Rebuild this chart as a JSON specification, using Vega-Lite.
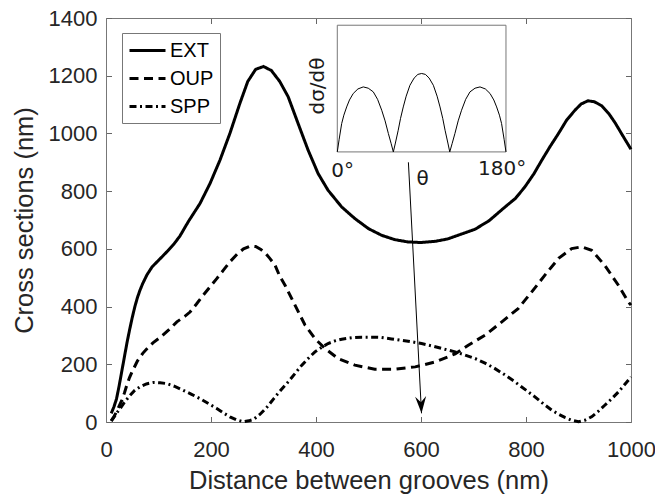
{
  "$schema": "https://vega.github.io/schema/vega-lite/v6.json",
  "width": 525,
  "height": 404,
  "autosize": {"type": "none"},
  "padding": {"left": 106, "top": 18, "right": 24, "bottom": 73},
  "background": "white",
  "config": {
    "font": "Liberation Sans",
    "view": {"stroke": null},
    "axis": {
      "grid": false,
      "labelFont": "Liberation Sans",
      "labelFontSize": 22,
      "labelColor": "#262626",
      "labelFlush": false,
      "format": "d",
      "titleFont": "Liberation Sans",
      "titleFontSize": 25.5,
      "titleFontWeight": "normal",
      "titleColor": "#262626",
      "domainColor": "#777777",
      "domainWidth": 1,
      "tickColor": "#666666",
      "tickWidth": 1,
      "ticks": true
    }
  },
  "datasets": {
    "curves": [
      {"x": 10, "y": 30, "s": "EXT"}, {"x": 15, "y": 52, "s": "EXT"}, {"x": 20, "y": 80, "s": "EXT"}, {"x": 25, "y": 125, "s": "EXT"}, {"x": 30, "y": 175, "s": "EXT"}, {"x": 35, "y": 225, "s": "EXT"}, {"x": 40, "y": 275, "s": "EXT"}, {"x": 45, "y": 320, "s": "EXT"}, {"x": 50, "y": 362, "s": "EXT"}, {"x": 55, "y": 400, "s": "EXT"}, {"x": 60, "y": 432, "s": "EXT"}, {"x": 65, "y": 458, "s": "EXT"}, {"x": 70, "y": 480, "s": "EXT"}, {"x": 78, "y": 510, "s": "EXT"}, {"x": 88, "y": 538, "s": "EXT"}, {"x": 100, "y": 560, "s": "EXT"}, {"x": 116, "y": 590, "s": "EXT"}, {"x": 130, "y": 618, "s": "EXT"}, {"x": 141, "y": 645, "s": "EXT"}, {"x": 157, "y": 695, "s": "EXT"}, {"x": 179, "y": 757, "s": "EXT"}, {"x": 198, "y": 826, "s": "EXT"}, {"x": 217, "y": 907, "s": "EXT"}, {"x": 236, "y": 1000, "s": "EXT"}, {"x": 255, "y": 1104, "s": "EXT"}, {"x": 270, "y": 1180, "s": "EXT"}, {"x": 285, "y": 1222, "s": "EXT"}, {"x": 300, "y": 1232, "s": "EXT"}, {"x": 315, "y": 1218, "s": "EXT"}, {"x": 331, "y": 1180, "s": "EXT"}, {"x": 347, "y": 1127, "s": "EXT"}, {"x": 366, "y": 1034, "s": "EXT"}, {"x": 385, "y": 942, "s": "EXT"}, {"x": 404, "y": 861, "s": "EXT"}, {"x": 423, "y": 803, "s": "EXT"}, {"x": 449, "y": 745, "s": "EXT"}, {"x": 474, "y": 705, "s": "EXT"}, {"x": 500, "y": 670, "s": "EXT"}, {"x": 525, "y": 647, "s": "EXT"}, {"x": 550, "y": 632, "s": "EXT"}, {"x": 575, "y": 624, "s": "EXT"}, {"x": 600, "y": 622, "s": "EXT"}, {"x": 627, "y": 626, "s": "EXT"}, {"x": 650, "y": 634, "s": "EXT"}, {"x": 675, "y": 650, "s": "EXT"}, {"x": 703, "y": 668, "s": "EXT"}, {"x": 730, "y": 698, "s": "EXT"}, {"x": 760, "y": 745, "s": "EXT"}, {"x": 780, "y": 775, "s": "EXT"}, {"x": 798, "y": 815, "s": "EXT"}, {"x": 815, "y": 860, "s": "EXT"}, {"x": 830, "y": 907, "s": "EXT"}, {"x": 846, "y": 955, "s": "EXT"}, {"x": 862, "y": 1000, "s": "EXT"}, {"x": 877, "y": 1045, "s": "EXT"}, {"x": 893, "y": 1080, "s": "EXT"}, {"x": 905, "y": 1102, "s": "EXT"}, {"x": 918, "y": 1113, "s": "EXT"}, {"x": 930, "y": 1110, "s": "EXT"}, {"x": 944, "y": 1096, "s": "EXT"}, {"x": 958, "y": 1068, "s": "EXT"}, {"x": 970, "y": 1036, "s": "EXT"}, {"x": 985, "y": 990, "s": "EXT"}, {"x": 1000, "y": 945, "s": "EXT"},

      {"x": 10, "y": 5, "s": "OUP"}, {"x": 15, "y": 18, "s": "OUP"}, {"x": 20, "y": 35, "s": "OUP"}, {"x": 25, "y": 55, "s": "OUP"}, {"x": 30, "y": 75, "s": "OUP"}, {"x": 35, "y": 100, "s": "OUP"}, {"x": 40, "y": 130, "s": "OUP"}, {"x": 45, "y": 155, "s": "OUP"}, {"x": 50, "y": 175, "s": "OUP"}, {"x": 60, "y": 212, "s": "OUP"}, {"x": 70, "y": 238, "s": "OUP"}, {"x": 80, "y": 258, "s": "OUP"}, {"x": 90, "y": 275, "s": "OUP"}, {"x": 103, "y": 293, "s": "OUP"}, {"x": 120, "y": 320, "s": "OUP"}, {"x": 135, "y": 347, "s": "OUP"}, {"x": 150, "y": 366, "s": "OUP"}, {"x": 160, "y": 381, "s": "OUP"}, {"x": 172, "y": 408, "s": "OUP"}, {"x": 185, "y": 439, "s": "OUP"}, {"x": 198, "y": 468, "s": "OUP"}, {"x": 211, "y": 497, "s": "OUP"}, {"x": 224, "y": 527, "s": "OUP"}, {"x": 236, "y": 555, "s": "OUP"}, {"x": 250, "y": 582, "s": "OUP"}, {"x": 262, "y": 600, "s": "OUP"}, {"x": 275, "y": 610, "s": "OUP"}, {"x": 285, "y": 608, "s": "OUP"}, {"x": 295, "y": 598, "s": "OUP"}, {"x": 305, "y": 582, "s": "OUP"}, {"x": 312, "y": 567, "s": "OUP"}, {"x": 322, "y": 543, "s": "OUP"}, {"x": 331, "y": 505, "s": "OUP"}, {"x": 341, "y": 474, "s": "OUP"}, {"x": 360, "y": 405, "s": "OUP"}, {"x": 379, "y": 336, "s": "OUP"}, {"x": 398, "y": 289, "s": "OUP"}, {"x": 417, "y": 255, "s": "OUP"}, {"x": 442, "y": 220, "s": "OUP"}, {"x": 474, "y": 197, "s": "OUP"}, {"x": 512, "y": 183, "s": "OUP"}, {"x": 550, "y": 183, "s": "OUP"}, {"x": 589, "y": 191, "s": "OUP"}, {"x": 627, "y": 208, "s": "OUP"}, {"x": 665, "y": 236, "s": "OUP"}, {"x": 690, "y": 266, "s": "OUP"}, {"x": 722, "y": 301, "s": "OUP"}, {"x": 754, "y": 347, "s": "OUP"}, {"x": 785, "y": 393, "s": "OUP"}, {"x": 811, "y": 451, "s": "OUP"}, {"x": 836, "y": 509, "s": "OUP"}, {"x": 862, "y": 567, "s": "OUP"}, {"x": 887, "y": 601, "s": "OUP"}, {"x": 906, "y": 607, "s": "OUP"}, {"x": 925, "y": 595, "s": "OUP"}, {"x": 950, "y": 543, "s": "OUP"}, {"x": 976, "y": 474, "s": "OUP"}, {"x": 995, "y": 416, "s": "OUP"}, {"x": 1000, "y": 405, "s": "OUP"},

      {"x": 10, "y": 3, "s": "SPP"}, {"x": 20, "y": 30, "s": "SPP"}, {"x": 27, "y": 47, "s": "SPP"}, {"x": 35, "y": 68, "s": "SPP"}, {"x": 46, "y": 93, "s": "SPP"}, {"x": 55, "y": 110, "s": "SPP"}, {"x": 65, "y": 122, "s": "SPP"}, {"x": 77, "y": 132, "s": "SPP"}, {"x": 90, "y": 137, "s": "SPP"}, {"x": 103, "y": 136, "s": "SPP"}, {"x": 116, "y": 133, "s": "SPP"}, {"x": 130, "y": 124, "s": "SPP"}, {"x": 147, "y": 110, "s": "SPP"}, {"x": 163, "y": 96, "s": "SPP"}, {"x": 179, "y": 81, "s": "SPP"}, {"x": 195, "y": 64, "s": "SPP"}, {"x": 211, "y": 47, "s": "SPP"}, {"x": 225, "y": 30, "s": "SPP"}, {"x": 236, "y": 18, "s": "SPP"}, {"x": 248, "y": 8, "s": "SPP"}, {"x": 262, "y": 1, "s": "SPP"}, {"x": 272, "y": 4, "s": "SPP"}, {"x": 281, "y": 9, "s": "SPP"}, {"x": 293, "y": 26, "s": "SPP"}, {"x": 306, "y": 50, "s": "SPP"}, {"x": 320, "y": 82, "s": "SPP"}, {"x": 331, "y": 106, "s": "SPP"}, {"x": 347, "y": 139, "s": "SPP"}, {"x": 360, "y": 168, "s": "SPP"}, {"x": 373, "y": 197, "s": "SPP"}, {"x": 386, "y": 222, "s": "SPP"}, {"x": 398, "y": 243, "s": "SPP"}, {"x": 411, "y": 259, "s": "SPP"}, {"x": 423, "y": 272, "s": "SPP"}, {"x": 436, "y": 281, "s": "SPP"}, {"x": 449, "y": 287, "s": "SPP"}, {"x": 468, "y": 292, "s": "SPP"}, {"x": 487, "y": 294, "s": "SPP"}, {"x": 506, "y": 294, "s": "SPP"}, {"x": 525, "y": 293, "s": "SPP"}, {"x": 544, "y": 288, "s": "SPP"}, {"x": 563, "y": 283, "s": "SPP"}, {"x": 582, "y": 278, "s": "SPP"}, {"x": 601, "y": 272, "s": "SPP"}, {"x": 620, "y": 264, "s": "SPP"}, {"x": 639, "y": 255, "s": "SPP"}, {"x": 652, "y": 249, "s": "SPP"}, {"x": 665, "y": 243, "s": "SPP"}, {"x": 684, "y": 232, "s": "SPP"}, {"x": 703, "y": 220, "s": "SPP"}, {"x": 722, "y": 204, "s": "SPP"}, {"x": 741, "y": 185, "s": "SPP"}, {"x": 760, "y": 163, "s": "SPP"}, {"x": 779, "y": 139, "s": "SPP"}, {"x": 798, "y": 113, "s": "SPP"}, {"x": 817, "y": 87, "s": "SPP"}, {"x": 833, "y": 63, "s": "SPP"}, {"x": 849, "y": 41, "s": "SPP"}, {"x": 862, "y": 27, "s": "SPP"}, {"x": 874, "y": 16, "s": "SPP"}, {"x": 887, "y": 6, "s": "SPP"}, {"x": 900, "y": 1, "s": "SPP"}, {"x": 912, "y": 6, "s": "SPP"}, {"x": 925, "y": 18, "s": "SPP"}, {"x": 937, "y": 36, "s": "SPP"}, {"x": 950, "y": 58, "s": "SPP"}, {"x": 963, "y": 80, "s": "SPP"}, {"x": 976, "y": 104, "s": "SPP"}, {"x": 988, "y": 130, "s": "SPP"}, {"x": 1000, "y": 156, "s": "SPP"}
    ],
    "inset": [
      {"t": 0, "v": 0}, {"t": 2, "v": 0.1}, {"t": 4.7, "v": 0.224}, {"t": 7, "v": 0.29}, {"t": 10, "v": 0.355}, {"t": 13, "v": 0.41}, {"t": 17, "v": 0.461}, {"t": 22, "v": 0.497}, {"t": 27.7, "v": 0.513}, {"t": 33, "v": 0.503}, {"t": 38.4, "v": 0.474}, {"t": 43, "v": 0.415}, {"t": 47.4, "v": 0.329}, {"t": 51, "v": 0.245}, {"t": 54.5, "v": 0.145}, {"t": 57.5, "v": 0.065}, {"t": 59.8, "v": 0},
      {"t": 62, "v": 0.07}, {"t": 65, "v": 0.171}, {"t": 67.5, "v": 0.265}, {"t": 70.4, "v": 0.355}, {"t": 73.5, "v": 0.44}, {"t": 77.5, "v": 0.526}, {"t": 82, "v": 0.583}, {"t": 86, "v": 0.612}, {"t": 90, "v": 0.619}, {"t": 94, "v": 0.612}, {"t": 98, "v": 0.583}, {"t": 102.5, "v": 0.526}, {"t": 106.5, "v": 0.44}, {"t": 109.6, "v": 0.355}, {"t": 112.5, "v": 0.265}, {"t": 115, "v": 0.171}, {"t": 118, "v": 0.07}, {"t": 120, "v": 0},
      {"t": 122.5, "v": 0.065}, {"t": 125.5, "v": 0.145}, {"t": 129, "v": 0.245}, {"t": 132.6, "v": 0.329}, {"t": 137, "v": 0.415}, {"t": 141.6, "v": 0.474}, {"t": 147, "v": 0.503}, {"t": 152.3, "v": 0.513}, {"t": 158, "v": 0.497}, {"t": 163, "v": 0.461}, {"t": 167, "v": 0.41}, {"t": 170, "v": 0.355}, {"t": 173, "v": 0.29}, {"t": 175.3, "v": 0.224}, {"t": 178, "v": 0.1}, {"t": 180, "v": 0}
    ]
  },
  "layer": [
    {
      "layer": [
        {
          "data": {"name": "curves"},
          "mark": {"type": "line", "color": "black", "strokeWidth": 3, "strokeCap": "butt"},
          "encoding": {
            "x": {
              "field": "x", "type": "quantitative",
              "scale": {"domain": [0, 1000], "nice": false},
              "axis": {"orient": "bottom", "values": [0, 200, 400, 600, 800, 1000], "format": "d", "tickSize": -5.5, "title": "Distance between grooves (nm)", "labelPadding": 22.5, "titlePadding": 8}
            },
            "y": {
              "field": "y", "type": "quantitative",
              "scale": {"domain": [0, 1400], "nice": false},
              "axis": {"orient": "left", "values": [0, 200, 400, 600, 800, 1000, 1200, 1400], "format": "d", "tickSize": -5.5, "title": "Cross sections (nm)", "labelPadding": 14.5, "titlePadding": 11}
            },
            "strokeDash": {
              "field": "s", "type": "nominal",
              "scale": {"domain": ["EXT", "OUP", "SPP"], "range": [[1, 0], [9, 5.5], [7, 3.5, 2, 3.5]]},
              "legend": {
                "orient": "none", "legendX": 16, "legendY": 15, "title": null,
                "labelFont": "Liberation Sans", "labelFontSize": 20, "labelColor": "#000000",
                "symbolType": "M-1,0 L2.6,0", "symbolSize": 400, "symbolStrokeWidth": 3, "symbolStrokeColor": "black",
                "strokeColor": "#777777", "fillColor": "white", "padding": 6, "rowPadding": 6, "labelOffset": 19
              }
            }
          }
        },
        {
          "data": {"values": [{"x": 576, "y": 900, "x2": 601, "y2": 30}]},
          "mark": {"type": "rule", "color": "black", "strokeWidth": 1},
          "encoding": {
            "x": {
              "field": "x", "type": "quantitative",
              "scale": {"domain": [0, 1000], "nice": false},
              "axis": {"orient": "top", "values": [0, 200, 400, 600, 800, 1000], "tickSize": -5.5, "labels": false, "title": null}
            },
            "y": {
              "field": "y", "type": "quantitative",
              "scale": {"domain": [0, 1400], "nice": false},
              "axis": {"orient": "right", "values": [0, 200, 400, 600, 800, 1000, 1200, 1400], "tickSize": -5.5, "labels": false, "title": null}
            },
            "x2": {"field": "x2"},
            "y2": {"field": "y2"}
          }
        },
        {
          "data": {"values": [{"x": 601, "y": 30}]},
          "mark": {"type": "point", "shape": "M0,0 L-0.65,-2 L0,-1.3 L0.65,-2 Z", "size": 289, "filled": true, "color": "black", "opacity": 1, "angle": -3},
          "encoding": {
            "x": {"field": "x", "type": "quantitative", "scale": {"domain": [0, 1000], "nice": false}, "axis": null},
            "y": {"field": "y", "type": "quantitative", "scale": {"domain": [0, 1400], "nice": false}, "axis": null}
          }
        }
      ],
      "resolve": {"axis": {"x": "independent", "y": "independent"}}
    },
    {
      "layer": [
        {
          "data": {"values": [{}]},
          "mark": {"type": "rect", "fill": "white", "stroke": "#777777", "strokeWidth": 1},
          "encoding": {
            "x": {"datum": 0, "type": "quantitative", "scale": {"domain": [-246.8, 313.4], "nice": false, "zero": false}, "axis": null},
            "x2": {"datum": 180},
            "y": {"datum": 0, "type": "quantitative", "scale": {"domain": [-2.132, 1.057], "nice": false, "zero": false}, "axis": null},
            "y2": {"datum": 1}
          }
        },
        {
          "data": {"name": "inset"},
          "mark": {"type": "line", "color": "black", "strokeWidth": 1},
          "encoding": {
            "x": {"field": "t", "type": "quantitative", "scale": {"domain": [-246.8, 313.4], "nice": false, "zero": false}, "axis": null},
            "y": {"field": "v", "type": "quantitative", "scale": {"domain": [-2.132, 1.057], "nice": false, "zero": false}, "axis": null}
          }
        },
        {
          "data": {"values": [{}]},
          "mark": {"type": "text", "text": "0°", "font": "DejaVu Sans", "fontSize": 20, "color": "#1a1a1a", "align": "left", "baseline": "alphabetic", "dx": -6, "dy": 25},
          "encoding": {
            "x": {"datum": 0, "type": "quantitative", "scale": {"domain": [-246.8, 313.4], "nice": false, "zero": false}, "axis": null},
            "y": {"datum": 0, "type": "quantitative", "scale": {"domain": [-2.132, 1.057], "nice": false, "zero": false}, "axis": null}
          }
        },
        {
          "data": {"values": [{}]},
          "mark": {"type": "text", "text": "180°", "font": "DejaVu Sans", "fontSize": 20, "color": "#1a1a1a", "align": "left", "baseline": "alphabetic", "dx": -28, "dy": 23},
          "encoding": {
            "x": {"datum": 180, "type": "quantitative", "scale": {"domain": [-246.8, 313.4], "nice": false, "zero": false}, "axis": null},
            "y": {"datum": 0, "type": "quantitative", "scale": {"domain": [-2.132, 1.057], "nice": false, "zero": false}, "axis": null}
          }
        },
        {
          "data": {"values": [{}]},
          "mark": {"type": "text", "text": "θ", "font": "DejaVu Sans", "fontSize": 20, "color": "#1a1a1a", "align": "center", "baseline": "alphabetic", "dx": 1, "dy": 33},
          "encoding": {
            "x": {"datum": 90, "type": "quantitative", "scale": {"domain": [-246.8, 313.4], "nice": false, "zero": false}, "axis": null},
            "y": {"datum": 0, "type": "quantitative", "scale": {"domain": [-2.132, 1.057], "nice": false, "zero": false}, "axis": null}
          }
        },
        {
          "data": {"values": [{}]},
          "mark": {"type": "text", "text": "dσ/dθ", "font": "DejaVu Sans", "fontSize": 20, "color": "#1a1a1a", "align": "center", "baseline": "middle", "angle": 270},
          "encoding": {
            "x": {"datum": -21, "type": "quantitative", "scale": {"domain": [-246.8, 313.4], "nice": false, "zero": false}, "axis": null},
            "y": {"datum": 0.52, "type": "quantitative", "scale": {"domain": [-2.132, 1.057], "nice": false, "zero": false}, "axis": null}
          }
        }
      ]
    }
  ],
  "resolve": {"scale": {"x": "independent", "y": "independent"}}
}
